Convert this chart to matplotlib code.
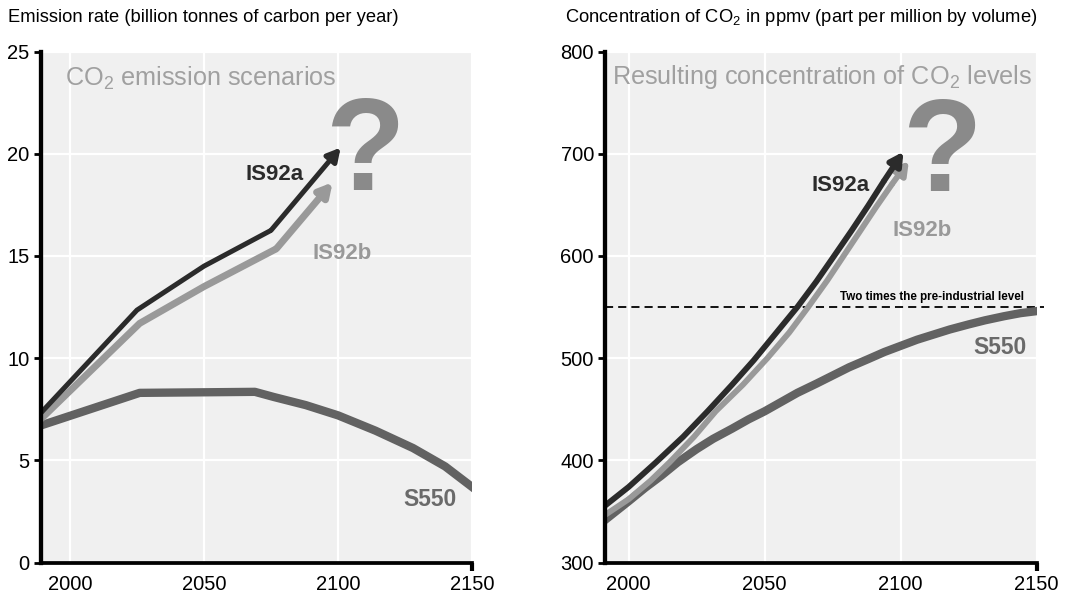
import matplotlib
matplotlib.use("Agg")
import matplotlib.pyplot as plt

plt.rcParams['font.family'] = ['Liberation Sans', 'DejaVu Sans']
plt.rcParams['mathtext.fontset'] = 'custom'
plt.rcParams['mathtext.rm'] = 'Liberation Sans'
plt.rcParams['mathtext.it'] = 'Liberation Sans:italic'
plt.rcParams['mathtext.bf'] = 'Liberation Sans:bold'

# Emission scenarios (billion tonnes of carbon per year)
em_years_a = [1989, 2025, 2050, 2075, 2101]
em_is92a = [7.3, 12.35, 14.5, 16.25, 20.3]
em_years_b = [1989, 2026, 2050, 2077, 2098]
em_is92b = [7.0, 11.7, 13.5, 15.35, 18.6]
em_years_s = [1989, 2026, 2069, 2076, 2088, 2100, 2114, 2128, 2140, 2150]
em_s550 = [6.7, 8.3, 8.35, 8.1, 7.7, 7.2, 6.45, 5.6, 4.7, 3.7]

# Resulting CO2 concentration (ppmv)
co_years_a = [1991, 2000, 2010, 2020, 2029, 2038, 2046, 2054, 2062, 2069, 2075, 2082, 2088, 2094, 2101]
co_is92a = [355, 374, 398, 423, 448, 474, 498, 524, 550, 575, 598, 625, 649, 674, 702]
co_years_b = [1991, 2000, 2008, 2015, 2024, 2032, 2042, 2051, 2059, 2066, 2073, 2079, 2085, 2091, 2097, 2103]
co_is92b = [346, 362, 380, 398, 423, 448, 474, 500, 525, 550, 576, 600, 624, 648, 671, 693]
co_years_s = [1991, 2000, 2006, 2012, 2018, 2025, 2031, 2038, 2044, 2050, 2056, 2062, 2069, 2075,
              2081, 2088, 2094, 2100, 2106, 2112, 2118, 2125, 2131, 2138, 2144, 2150]
co_s550 = [341, 360, 373, 385, 398, 411, 421, 431, 440, 448, 457, 466, 475, 483,
           491, 499, 506, 512, 518, 523, 528, 533, 537, 541, 544, 546]

x_ticks = [2000, 2050, 2100, 2150]
em_yticks = [0, 5, 10, 15, 20, 25]
co_yticks = [300, 400, 500, 600, 700, 800]
pre_industrial_double = 550

c_a = '#2b2b2b'
c_b = '#999999'
c_s = '#626262'
bg = '#f0f0f0'

fig = plt.figure(figsize=(10.69, 5.95), dpi=100)
ax1 = fig.add_axes([0.0379, 0.0546, 0.4036, 0.8588])
ax2 = fig.add_axes([0.566, 0.0546, 0.4038, 0.8588])


def style_axes(ax, xmin, ylim, yticks):
    ax.set_facecolor(bg)
    ax.set_xlim(xmin, 2150)
    ax.set_ylim(*ylim)
    ax.set_xticks(x_ticks)
    ax.set_yticks(yticks)
    ax.grid(True, color='white', lw=1.6)
    ax.set_axisbelow(True)
    for s in ['top', 'right']:
        ax.spines[s].set_visible(False)
    ax.spines['left'].set_linewidth(3.1)
    ax.spines['bottom'].set_linewidth(2.7)
    ax.tick_params(axis='y', length=5, width=2, pad=3, labelsize=14.5)
    ax.tick_params(axis='x', length=6, width=3, pad=3, labelsize=14.5)
    for t in ax.xaxis.get_major_ticks()[:-1]:
        t.tick1line.set_visible(False)


def arrow_line(ax, xs, ys, color, lw, scale):
    ax.plot(xs[:-1], ys[:-1], color=color, lw=lw, solid_joinstyle='miter',
            solid_capstyle='butt')
    ax.annotate('', xy=(xs[-1], ys[-1]), xytext=(xs[-2], ys[-2]),
                arrowprops=dict(arrowstyle='-|>,head_length=0.55,head_width=0.3',
                                color=color, lw=lw, mutation_scale=scale,
                                shrinkA=0, shrinkB=0))


# left panel
style_axes(ax1, 1989, (0, 25), em_yticks)
ax1.plot(em_years_s, em_s550, color=c_s, lw=6)
arrow_line(ax1, em_years_b, em_is92b, c_b, 5, 14)
arrow_line(ax1, em_years_a, em_is92a, c_a, 3.6, 14)
ax1.text(1998, 23.7, 'CO$_2$ emission scenarios', color='#a0a0a0', fontsize=18.2,
         va='center', ha='left')
ax1.text(2076.5, 19.0, 'IS92a', color=c_a, fontsize=16, fontweight='bold',
         ha='center', va='center')
ax1.text(2101.5, 15.1, 'IS92b', color=c_b, fontsize=16, fontweight='bold',
         ha='center', va='center')
ax1.text(2134.5, 3.07, 'S550', color='#6a6a6a', fontsize=16.5, fontweight='bold',
         ha='center', va='center')
ax1.text(2110, 19.9, '?', color='#8a8a8a', fontsize=94, fontweight='bold',
         ha='center', va='center')

# right panel
style_axes(ax2, 1991.3, (300, 800), co_yticks)
ax2.plot([1991.3, 2152.5], [pre_industrial_double] * 2, color='black', lw=1.3,
         linestyle=(0, (4.5, 2.8)), clip_on=False)
ax2.plot(co_years_s, co_s550, color=c_s, lw=6)
arrow_line(ax2, co_years_b, co_is92b, c_b, 4.2, 14)
arrow_line(ax2, co_years_a, co_is92a, c_a, 4.2, 14)
ax2.text(2145.5, 560, 'Two times the pre-industrial level', fontsize=8.4,
         fontweight='bold', ha='right', va='center')
ax2.text(1994, 775, 'Resulting concentration of CO$_2$ levels', color='#a0a0a0',
         fontsize=18.2, va='center', ha='left')
ax2.text(2078, 669, 'IS92a', color=c_a, fontsize=16, fontweight='bold',
         ha='center', va='center')
ax2.text(2108, 625, 'IS92b', color=c_b, fontsize=16, fontweight='bold',
         ha='center', va='center')
ax2.text(2136.5, 510, 'S550', color='#6a6a6a', fontsize=16.5, fontweight='bold',
         ha='center', va='center')
ax2.text(2115, 697, '?', color='#8a8a8a', fontsize=94, fontweight='bold',
         ha='center', va='center')

fig.text(7.5 / 1069, 1 - 17 / 595, 'Emission rate (billion tonnes of carbon per year)',
         fontsize=13.2, va='center', ha='left')
fig.text(565 / 1069, 1 - 17 / 595,
         'Concentration of CO$_2$ in ppmv (part per million by volume)',
         fontsize=13.2, va='center', ha='left')

fig.savefig('out.png', dpi=100)
